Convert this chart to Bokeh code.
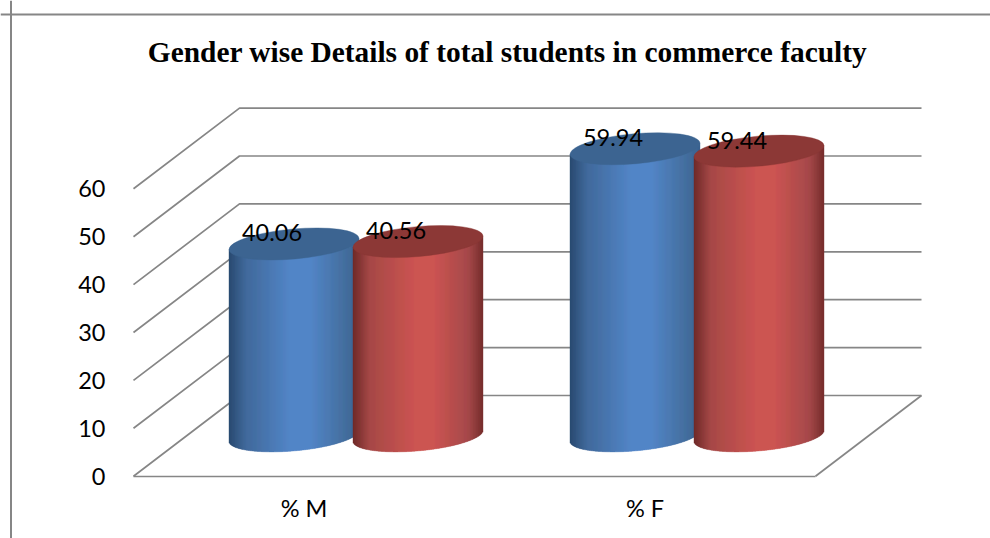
import numpy as np
from bokeh.core.properties import value
from bokeh.embed import file_html
from bokeh.models import FixedTicker, LinearAxis, Range1d, Span
from bokeh.plotting import figure
from bokeh.resources import INLINE

# ---- data ----
categories = ["% M", "% F"]
series_blue = [40.06, 59.94]
series_red = [40.56, 59.44]
value_ticks = [0, 10, 20, 30, 40, 50, 60]
title_text = "Gender wise Details of total students in commerce faculty"

# ---- layout of the fake 3-D chart: pixels per data unit ----
PX_PER_CAT = 341.0
PX_PER_VAL = 4.79
X0_PX, Y0_PX = 133.0, 475.7        # page position of x=0.5, value=0
ORIGIN = 0                         # page position of the figure's corner
FIG_W, FIG_H = 990, 538


def x_of(px):
    return 0.5 + (px - X0_PX) / PX_PER_CAT


def v_of(py):
    return (Y0_PX - py) / PX_PER_VAL


DEPTH_X = 106.0 / PX_PER_CAT
DEPTH_V = 80.7 / PX_PER_VAL
OFFSET = 62.0 / PX_PER_CAT         # series offset from the cylinder pair's centre
NUDGE = -1.0 / PX_PER_CAT          # cylinders sit a pixel left of the floor's centre
HALF_W = 65.0                      # px
SEMI_A, SEMI_B, TILT_DEG = 65.25, 15.0, 5.1
CHORD_SLOPE, CHORD_HALF = 0.085, 15.06

GRID = "#868686"
BLUE_STOPS = ["#2a4a70", "#41699b", "#5386c8", "#5386c8", "#456f9f", "#3a6290"]
RED_STOPS = ["#6f2a29", "#a64947", "#cc5552", "#cc5552", "#a5494a", "#762d2c"]
STOP_POS = [0.0, 0.13, 0.48, 0.62, 0.89, 1.0]
BLUE_TOP, RED_TOP = "#3c6491", "#8c3836"
LABEL_FONT = "Lato"
LABEL_SIZE = "23.5px"


def ramp(stops, ts):
    rgb = np.array([[int(s[i:i + 2], 16) for i in (1, 3, 5)] for s in stops], float)
    out = np.stack([np.interp(ts, STOP_POS, rgb[:, k]) for k in range(3)], axis=1)
    return ["#%02x%02x%02x" % tuple(int(round(c)) for c in row) for row in out]


p = figure(
    width=FIG_W, height=FIG_H, output_backend="svg", toolbar_location=None,
    x_axis_location=None, y_axis_location=None, min_border=0,
    x_range=Range1d(x_of(ORIGIN), x_of(ORIGIN + FIG_W)),
    y_range=Range1d(v_of(ORIGIN + FIG_H), v_of(ORIGIN)),
)
p.grid.visible = False
p.outline_line_color = None
p.background_fill_color = "white"

# outer chart border (top and left only are in view)
p.add_layout(Span(location=v_of(14), dimension="width", line_color=GRID, line_width=2))
p.add_layout(Span(location=x_of(10.5), dimension="height", line_color=GRID, line_width=2))

# back wall and side wall gridlines
x_front = 0.5
x_back = x_front + DEPTH_X
x_end = 0.5 + len(categories) + DEPTH_X
xs, ys = [], []
for t in value_ticks:
    xs.append([x_front, x_back, x_end])
    ys.append([t, t + DEPTH_V, t + DEPTH_V])
xs.append([0.5 + len(categories), x_end])
ys.append([0, DEPTH_V])
p.multi_line(xs, ys, line_color=GRID, line_width=1.7)

# axes
y_axis = LinearAxis(
    fixed_location=x_front, ticker=FixedTicker(ticks=value_ticks), bounds=(0, 60),
    axis_line_color=None, major_tick_line_color=None, minor_tick_line_color=None,
    major_label_standoff=22, major_label_text_font=LABEL_FONT,
    major_label_text_font_size=LABEL_SIZE, major_label_text_color="black",
)
p.add_layout(y_axis, "left")
cat_pos = [i + 1 for i in range(len(categories))]
x_axis = LinearAxis(
    fixed_location=0, ticker=FixedTicker(ticks=cat_pos),
    major_label_overrides=dict(zip(cat_pos, categories)), bounds=(0.5, 0.5 + len(categories)),
    axis_line_color=GRID, axis_line_width=1.7,
    major_tick_line_color=None, minor_tick_line_color=None,
    major_label_standoff=12, major_label_text_font=LABEL_FONT,
    major_label_text_font_size=LABEL_SIZE, major_label_text_color="black",
)
p.add_layout(x_axis, "below")


def cylinder(cx, val, stops, top_color):
    edges = np.arange(-HALF_W, HALF_W + 1.0, 1.0)
    mids = (edges[:-1] + edges[1:]) / 2
    t = mids / HALF_W
    base = DEPTH_V / 2
    slope_v = CHORD_SLOPE * mids / PX_PER_VAL
    chord_v = CHORD_HALF * np.sqrt(1 - t ** 2) / PX_PER_VAL
    colors = ramp(stops, (t + 1) / 2)
    p.quad(
        left=cx + edges[:-1] / PX_PER_CAT, right=cx + edges[1:] / PX_PER_CAT,
        bottom=base + slope_v - chord_v, top=base + val + slope_v,
        fill_color=colors, line_color=colors, line_width=0.4,
    )
    p.ellipse(
        x=[cx], y=[base + val], width=[2 * SEMI_A / PX_PER_CAT],
        height=[2 * SEMI_B / PX_PER_VAL], angle=[TILT_DEG], angle_units="deg",
        fill_color=top_color, line_color=top_color, line_width=0.4,
    )


tops_x, tops_v, tops_txt = [], [], []
for i in range(len(categories)):
    c = cat_pos[i] + DEPTH_X / 2 + NUDGE
    cylinder(c - OFFSET, series_blue[i], BLUE_STOPS, BLUE_TOP)
    cylinder(c + OFFSET, series_red[i], RED_STOPS, RED_TOP)
    tops_x += [c - OFFSET, c + OFFSET]
    tops_v += [series_blue[i] + DEPTH_V / 2, series_red[i] + DEPTH_V / 2]
    tops_txt += [f"{series_blue[i]:.2f}", f"{series_red[i]:.2f}"]

p.text(
    x=tops_x, y=tops_v, text=tops_txt, x_offset=-22, y_offset=-11,
    text_align="center", text_baseline="middle", text_color="black",
    text_font=value(LABEL_FONT), text_font_size=value(LABEL_SIZE),
)

# title
p.text(
    x=[x_of(507)], y=[v_of(51.5)], text=[title_text], text_align="center",
    text_baseline="middle", text_color="black", text_font=value("Liberation Serif"),
    text_font_style="bold", text_font_size=value("29.4px"),
)

open("out.html", "w").write(file_html(p, INLINE))
